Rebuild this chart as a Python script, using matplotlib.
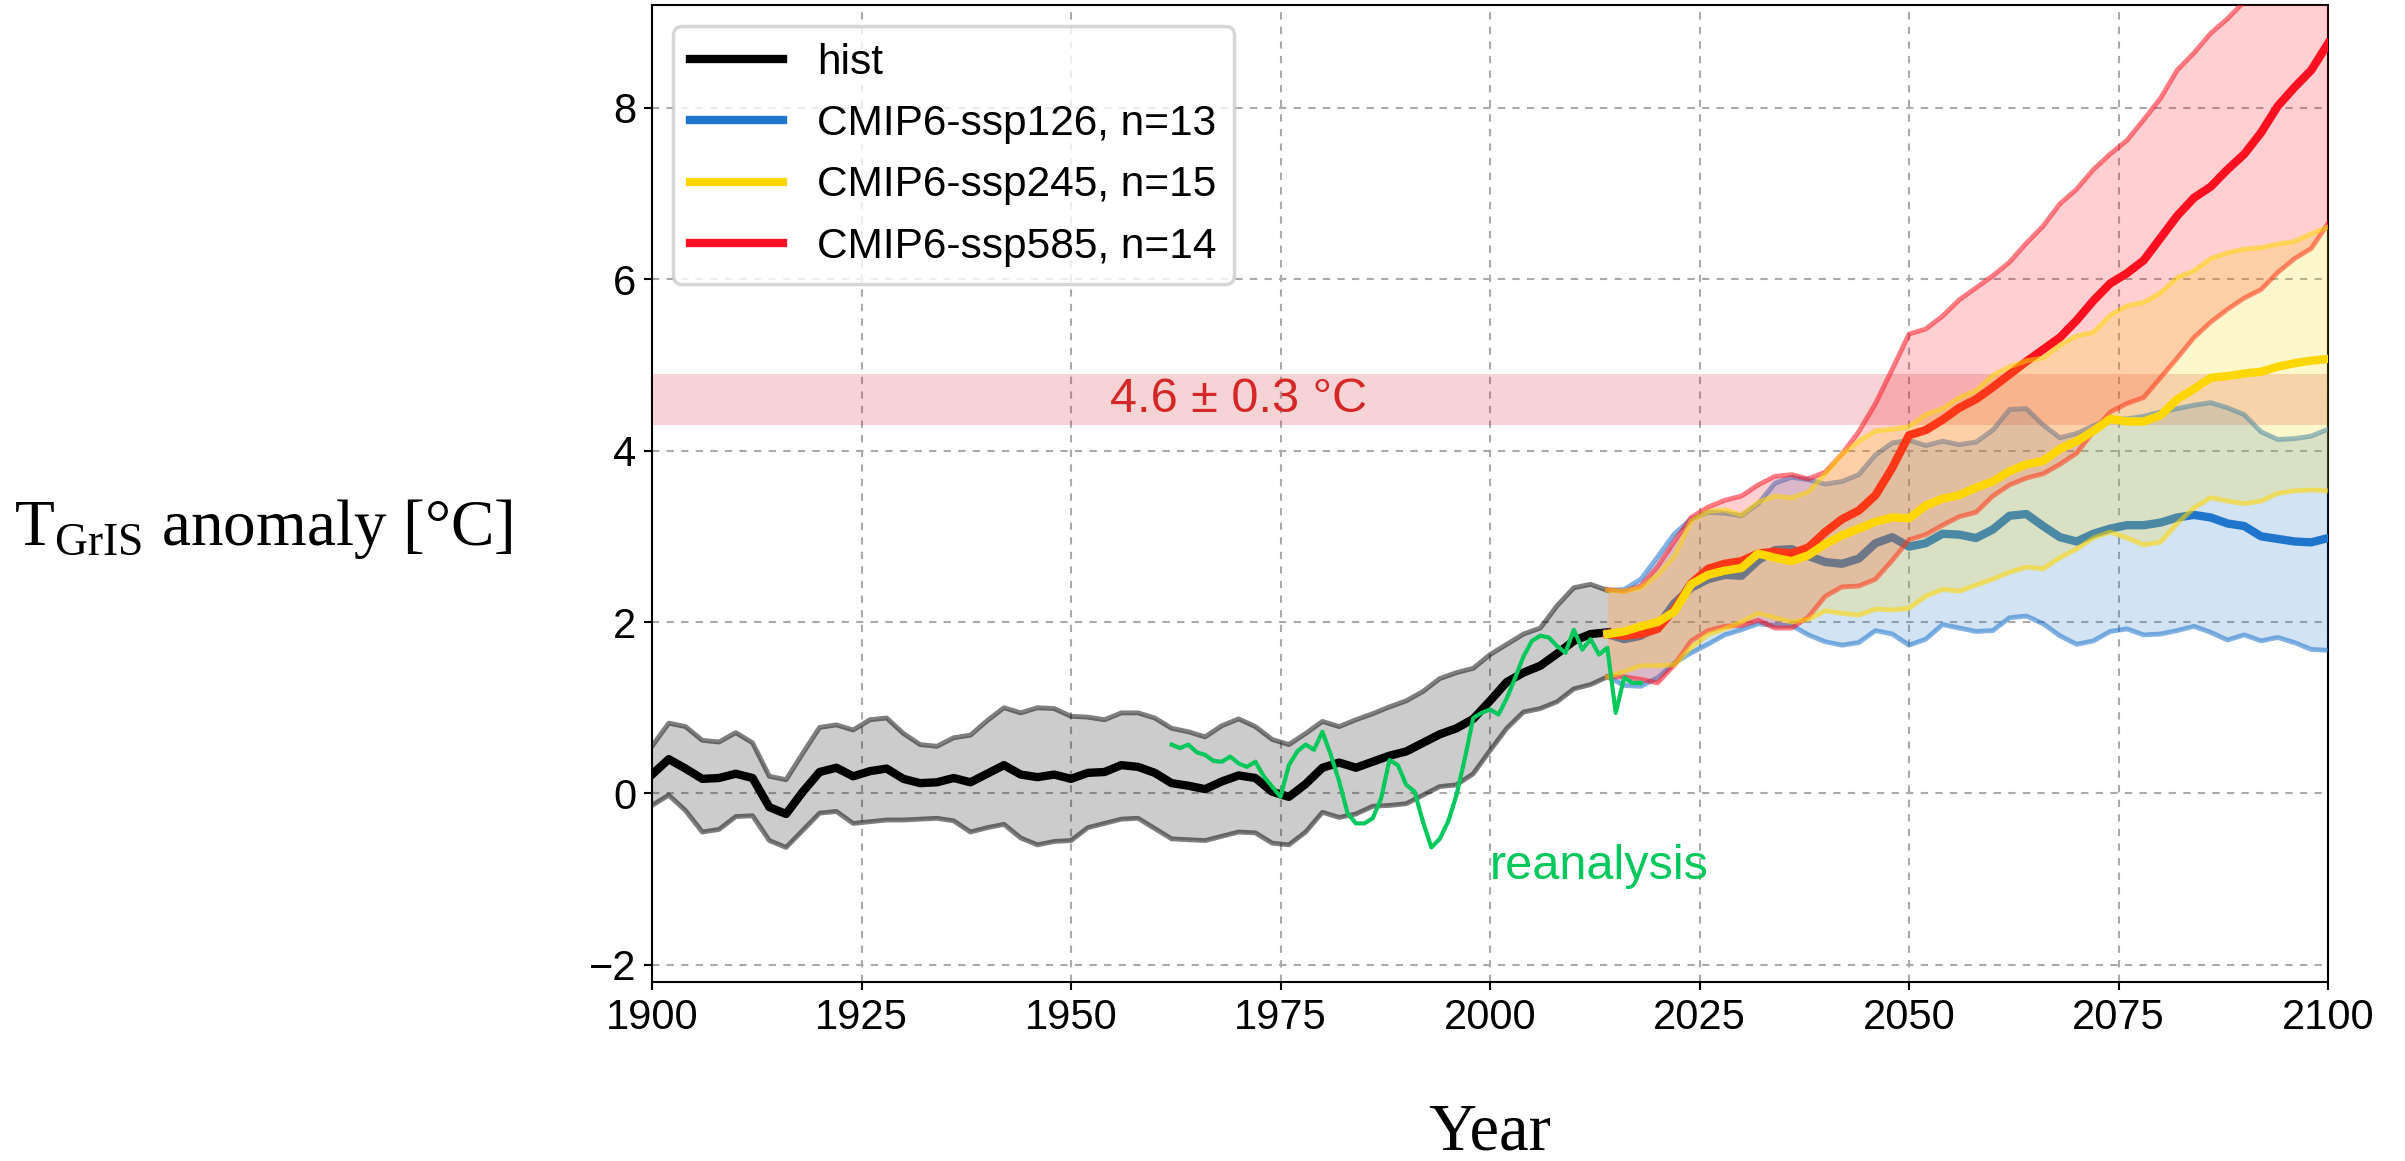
import matplotlib
matplotlib.use('Agg')
import matplotlib.pyplot as plt

plt.rcParams['font.family'] = ['Liberation Sans', 'DejaVu Sans']
plt.rcParams['mathtext.fontset'] = 'custom'
plt.rcParams['mathtext.rm'] = 'Liberation Serif'

# historical ensemble (2-yr steps)
hist_years = list(range(1900, 2015, 2))
hist_mean = [0.22, 0.40, 0.29, 0.17, 0.18, 0.23, 0.18, -0.16, -0.24, 0.02,
             0.25, 0.30, 0.20, 0.26, 0.29, 0.17, 0.12, 0.13, 0.18, 0.13,
             0.23, 0.33, 0.22, 0.19, 0.22, 0.17, 0.24, 0.25, 0.33, 0.31,
             0.24, 0.12, 0.09, 0.05, 0.14, 0.21, 0.18, 0.02, -0.04, 0.11,
             0.30, 0.36, 0.30, 0.37, 0.44, 0.49, 0.59, 0.69, 0.76, 0.87,
             1.08, 1.30, 1.41, 1.49, 1.63, 1.78, 1.86, 1.88]
hist_hi = [0.55, 0.82, 0.78, 0.62, 0.60, 0.71, 0.59, 0.20, 0.16, 0.47,
           0.77, 0.80, 0.74, 0.86, 0.88, 0.70, 0.57, 0.55, 0.65, 0.68,
           0.85, 1.00, 0.94, 1.00, 0.99, 0.90, 0.89, 0.86, 0.94, 0.94,
           0.88, 0.76, 0.72, 0.66, 0.79, 0.87, 0.78, 0.63, 0.57, 0.70,
           0.84, 0.78, 0.86, 0.93, 1.01, 1.08, 1.19, 1.34, 1.41, 1.46,
           1.62, 1.74, 1.86, 1.93, 2.19, 2.40, 2.44, 2.37]
hist_lo = [-0.14, -0.02, -0.20, -0.45, -0.42, -0.27, -0.26, -0.55, -0.63, -0.43,
           -0.23, -0.21, -0.35, -0.33, -0.31, -0.31, -0.30, -0.29, -0.32, -0.45,
           -0.40, -0.36, -0.52, -0.60, -0.56, -0.55, -0.40, -0.35, -0.30, -0.29,
           -0.41, -0.53, -0.54, -0.55, -0.50, -0.45, -0.46, -0.58, -0.60, -0.45,
           -0.22, -0.28, -0.24, -0.15, -0.14, -0.12, -0.02, 0.08, 0.10, 0.23,
           0.50, 0.76, 0.95, 0.99, 1.07, 1.22, 1.27, 1.36]

# reanalysis, annual
rean_years = list(range(1962, 2019))
rean_vals = [0.57, 0.53, 0.57, 0.48, 0.45, 0.38, 0.37, 0.43, 0.35, 0.31,
             0.37, 0.20, 0.08, -0.04, 0.33, 0.49, 0.57, 0.51, 0.72, 0.45,
             0.14, -0.23, -0.35, -0.35, -0.29, -0.06, 0.39, 0.33, 0.10, 0.02,
             -0.33, -0.63, -0.53, -0.33, -0.02, 0.41, 0.88, 0.94, 0.98, 0.92,
             1.11, 1.35, 1.60, 1.78, 1.84, 1.82, 1.72, 1.64, 1.91, 1.68,
             1.80, 1.62, 1.70, 0.94, 1.35, 1.29, 1.29]

# scenario ensembles (2-yr steps)
proj_years = list(range(2014, 2101, 2))
ssp126_mean = [1.86, 1.80, 1.84, 1.95, 2.22, 2.40, 2.50, 2.55, 2.54, 2.72,
               2.84, 2.85, 2.77, 2.70, 2.68, 2.74, 2.92, 2.99, 2.88, 2.92,
               3.03, 3.02, 2.98, 3.08, 3.24, 3.26, 3.12, 2.99, 2.94, 3.03,
               3.09, 3.13, 3.13, 3.16, 3.22, 3.25, 3.22, 3.15, 3.12, 3.00,
               2.97, 2.94, 2.93, 2.98]
ssp126_hi = [2.37, 2.38, 2.50, 2.76, 3.03, 3.20, 3.28, 3.27, 3.24, 3.38,
             3.62, 3.69, 3.66, 3.61, 3.64, 3.72, 3.95, 4.09, 4.12, 4.06,
             4.11, 4.07, 4.10, 4.24, 4.48, 4.49, 4.30, 4.15, 4.20, 4.29,
             4.37, 4.37, 4.40, 4.45, 4.49, 4.53, 4.56, 4.50, 4.42, 4.22,
             4.13, 4.14, 4.17, 4.25]
ssp126_lo = [1.36, 1.26, 1.25, 1.35, 1.52, 1.64, 1.74, 1.85, 1.91, 1.98,
             1.96, 1.96, 1.85, 1.77, 1.73, 1.76, 1.90, 1.86, 1.73, 1.80,
             1.97, 1.93, 1.89, 1.90, 2.05, 2.07, 1.98, 1.84, 1.74, 1.78,
             1.89, 1.92, 1.85, 1.86, 1.90, 1.95, 1.88, 1.79, 1.85, 1.78,
             1.82, 1.76, 1.68, 1.67]

ssp245_mean = [1.86, 1.89, 1.95, 2.00, 2.12, 2.44, 2.55, 2.60, 2.63, 2.80,
               2.75, 2.71, 2.78, 2.91, 3.01, 3.09, 3.17, 3.22, 3.21, 3.36,
               3.44, 3.48, 3.57, 3.64, 3.76, 3.84, 3.88, 4.02, 4.11, 4.23,
               4.37, 4.34, 4.34, 4.41, 4.60, 4.72, 4.85, 4.87, 4.90, 4.92,
               4.98, 5.02, 5.05, 5.07]
ssp245_hi = [2.37, 2.36, 2.40, 2.55, 2.77, 3.18, 3.29, 3.31, 3.25, 3.40,
             3.47, 3.45, 3.52, 3.73, 3.96, 4.11, 4.23, 4.25, 4.28, 4.42,
             4.49, 4.62, 4.70, 4.88, 4.98, 5.05, 5.08, 5.23, 5.34, 5.38,
             5.58, 5.69, 5.73, 5.84, 6.02, 6.10, 6.24, 6.31, 6.35, 6.37,
             6.41, 6.44, 6.53, 6.61]
ssp245_lo = [1.36, 1.42, 1.49, 1.49, 1.50, 1.70, 1.85, 1.92, 2.00, 2.10,
             2.05, 2.00, 2.03, 2.13, 2.10, 2.08, 2.15, 2.14, 2.16, 2.30,
             2.38, 2.36, 2.43, 2.50, 2.58, 2.64, 2.62, 2.75, 2.85, 2.98,
             3.05, 2.98, 2.90, 2.93, 3.15, 3.33, 3.45, 3.41, 3.38, 3.41,
             3.50, 3.53, 3.54, 3.53]

ssp585_mean = [1.86, 1.84, 1.86, 1.92, 2.15, 2.45, 2.62, 2.68, 2.71, 2.80,
               2.82, 2.80, 2.87, 3.05, 3.20, 3.30, 3.48, 3.80, 4.18, 4.24,
               4.36, 4.50, 4.60, 4.74, 4.89, 5.04, 5.18, 5.32, 5.52, 5.75,
               5.95, 6.07, 6.22, 6.48, 6.74, 6.95, 7.08, 7.28, 7.46, 7.71,
               8.02, 8.24, 8.44, 8.75]
ssp585_hi = [2.38, 2.36, 2.42, 2.65, 2.94, 3.22, 3.34, 3.42, 3.47, 3.60,
             3.70, 3.72, 3.67, 3.75, 3.96, 4.22, 4.55, 4.95, 5.36, 5.42,
             5.57, 5.76, 5.90, 6.04, 6.20, 6.42, 6.62, 6.88, 7.05, 7.28,
             7.46, 7.62, 7.86, 8.11, 8.44, 8.64, 8.87, 9.04, 9.24, 9.42,
             9.60, 9.80, 10.00, 10.20]
ssp585_lo = [1.36, 1.36, 1.33, 1.29, 1.50, 1.78, 1.90, 1.95, 1.96, 2.02,
             1.93, 1.93, 2.06, 2.30, 2.41, 2.42, 2.50, 2.72, 2.96, 3.02,
             3.13, 3.23, 3.28, 3.47, 3.60, 3.68, 3.73, 3.84, 3.97, 4.22,
             4.45, 4.55, 4.62, 4.85, 5.08, 5.32, 5.50, 5.65, 5.78, 5.88,
             6.08, 6.24, 6.36, 6.65]

target = 4.6
target_err = 0.3

fig = plt.figure(figsize=(24.05, 11.61), dpi=100)
ax = fig.add_axes([0.2711, 0.1542, 0.6969, 0.8415])

# threshold band
ax.axhspan(target - target_err, target + target_err, color='#d62728', alpha=0.2, lw=0, zorder=1)
ax.text(1970, target, f'{target} ± {target_err} °C', color='#d62728', fontsize=35,
        ha='center', va='center', zorder=2)

# historical
ax.fill_between(hist_years, hist_lo, hist_hi, color='k', alpha=0.2, lw=0, zorder=2)
ax.plot(hist_years, hist_lo, color='k', alpha=0.5, lw=3.5, zorder=2)
ax.plot(hist_years, hist_hi, color='k', alpha=0.5, lw=3.5, zorder=2)
h_hist, = ax.plot(hist_years, hist_mean, color='k', lw=6, zorder=3)


def scenario(mean, lo, hi, col, z):
    ax.fill_between(proj_years, lo, hi, color=col, alpha=0.2, lw=0, zorder=z)
    ax.plot(proj_years, lo, color=col, alpha=0.55, lw=3.5, zorder=z)
    ax.plot(proj_years, hi, color=col, alpha=0.55, lw=3.5, zorder=z)
    line, = ax.plot(proj_years, mean, color=col, lw=6, zorder=z)
    return line


h126 = scenario(ssp126_mean, ssp126_lo, ssp126_hi, '#1f75cc', 4)
h585 = scenario(ssp585_mean, ssp585_lo, ssp585_hi, '#ff1020', 5)
h245 = scenario(ssp245_mean, ssp245_lo, ssp245_hi, '#ffd700', 6)

# reanalysis
ax.plot(rean_years, rean_vals, color='#00c85a', lw=3, zorder=8)
ax.text(2000, -1.0, 'reanalysis', color='#00c85a', fontsize=35, ha='left', va='baseline')

ax.set_xlim(1900, 2100)
ax.set_ylim(-2.2, 9.2)
ax.set_xticks(range(1900, 2101, 25))
ax.set_yticks(range(-2, 9, 2))
ax.grid(True, color='#aaaaaa', lw=1.5, linestyle=(0, (3.5, 3.5)))
ax.set_axisbelow(True)
ax.tick_params(labelsize=30, length=5.5, width=1.5, pad=6, direction='out')
for s in ax.spines.values():
    s.set_linewidth(1.5)

leg = ax.legend([h_hist, h126, h245, h585],
                ['hist', 'CMIP6-ssp126, n=13', 'CMIP6-ssp245, n=15', 'CMIP6-ssp585, n=14'],
                loc='upper left', fontsize=30.5, labelspacing=0.5, handlelength=2.2,
                edgecolor='#cccccc')
leg.get_frame().set_linewidth(2.5)
leg.set_zorder(20)

fig.text(0.006, 1 - 545 / 1161, r'T$_{\mathrm{GrIS}}$ anomaly [°C]', fontsize=47,
         family='Liberation Serif', ha='left', va='baseline')
fig.text(0.6194, 1 - 1150 / 1161, 'Year', fontsize=48, family='Liberation Serif',
         ha='center', va='baseline')

fig.savefig('out.png', dpi=100)
